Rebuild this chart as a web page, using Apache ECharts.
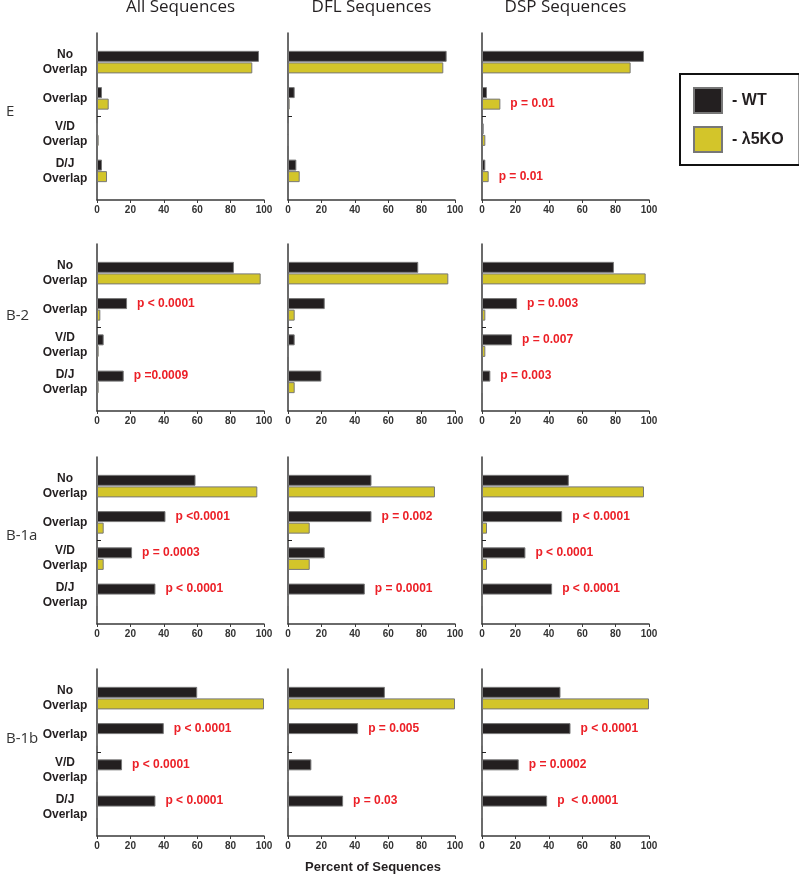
<!DOCTYPE html>
<html>
<head>
<meta charset="utf-8">
<script src="https://cdn.jsdelivr.net/npm/echarts@6/dist/echarts.min.js"></script>
<style>
  html, body { margin: 0; padding: 0; background: #fff; }
  #chart { width: 799px; height: 875px; }
</style>
</head>
<body>
<div id="chart"></div>
<script>
// categories and labels
const categories = ["No\nOverlap", "Overlap", "V/D\nOverlap", "D/J\nOverlap"];
const columnTitles = ["All Sequences", "DFL Sequences", "DSP Sequences"];
const rowLabels = ["E", "B-2", "B-1a", "B-1b"];
const groups = ["WT", "λ5KO"];
const xMin = 0, xMax = 100, xStep = 20;

// percent values, per row: [All, DFL, DSP] x categories
const wt_E   = [[97, 3, 0, 3], [95, 4, 0, 5], [97, 3, 1, 2]];
const ko_E   = [[93, 7, 1, 6], [93, 1, 0, 7], [89, 11, 2, 4]];
const wt_B2  = [[82, 18, 4, 16], [78, 22, 4, 20], [79, 21, 18, 5]];
const ko_B2  = [[98, 2, 1, 1], [96, 4, 0, 4], [98, 2, 2, 0]];
const wt_B1a = [[59, 41, 21, 35], [50, 50, 22, 46], [52, 48, 26, 42]];
const ko_B1a = [[96, 4, 4, 0], [88, 13, 13, 0], [97, 3, 3, 0]];
const wt_B1b = [[60, 40, 15, 35], [58, 42, 14, 33], [47, 53, 22, 39]];
const ko_B1b = [[100, 0, 0, 0], [100, 0, 0, 0], [100, 0, 0, 0]];

// p-value notes
const p_E   = [["", "", "", ""], ["", "", "", ""], ["", "p = 0.01", "", "p = 0.01"]];
const p_B2  = [["", "p < 0.0001", "", "p =0.0009"], ["", "", "", ""], ["", "p = 0.003", "p = 0.007", "p = 0.003"]];
const p_B1a = [["", "p <0.0001", "p = 0.0003", "p < 0.0001"], ["", "p = 0.002", "", "p = 0.0001"], ["", "p < 0.0001", "p < 0.0001", "p < 0.0001"]];
const p_B1b = [["", "p < 0.0001", "p < 0.0001", "p < 0.0001"], ["", "p = 0.005", "", "p = 0.03"], ["", "p < 0.0001", "p = 0.0002", "p  < 0.0001"]];

const wtRows = [wt_E, wt_B2, wt_B1a, wt_B1b];
const koRows = [ko_E, ko_B2, ko_B1a, ko_B1b];
const pRows = [p_E, p_B2, p_B1a, p_B1b];

// layout
const colLeft = [97, 288, 482];
const rowTop = [33, 244, 457, 669];
const panelW = 167, panelH = 167, bandPad = 11;
const axisColor = "#3a3a3a";
const wtColor = "#231f20", koColor = "#d3c52a", pColor = "#ec2027";

const grid = [], xAxis = [], yAxis = [], series = [], title = [];

columnTitles.forEach((t, c) => {
  title.push({
    text: t, left: colLeft[c] + panelW / 2, top: -1, textAlign: "center", padding: 0,
    textStyle: { fontFamily: "Open Sans", fontSize: 17, fontWeight: "normal", color: "#231f20" }
  });
});
const rowLabelTop = [104, 308, 528, 731];
rowLabels.forEach((t, r) => {
  title.push({
    text: t, left: 6, top: rowLabelTop[r], padding: 0,
    textStyle: { fontFamily: "Open Sans", fontSize: 15, fontWeight: "normal", color: "#333" }
  });
});
title.push({
  text: "Percent of Sequences", left: 373, top: 861, textAlign: "center", padding: 0,
  textStyle: { fontFamily: "Liberation Sans", fontSize: 13, fontWeight: "bold", color: "#231f20" }
});

function pLabel(text, show) {
  return {
    show: !!text && show, position: "right", distance: 10, formatter: text || "",
    color: pColor, fontFamily: "Liberation Sans", fontWeight: "bold", fontSize: 12
  };
}

for (let r = 0; r < 4; r++) {
  for (let c = 0; c < 3; c++) {
    const g = (r * 3 + c) * 2;
    // outer frame grid: axis lines and ticks
    grid.push({ left: colLeft[c], top: rowTop[r], width: panelW, height: panelH });
    // inner grid: bars
    grid.push({ left: colLeft[c], top: rowTop[r] + bandPad, width: panelW, height: panelH - 2 * bandPad });

    xAxis.push({
      gridIndex: g, type: "value", min: xMin, max: xMax, interval: xStep,
      axisLine: { show: true, lineStyle: { color: axisColor, width: 1.5 } },
      axisTick: { show: true, length: 3, lineStyle: { color: axisColor } },
      axisLabel: { margin: 5, fontFamily: "Liberation Sans", fontSize: 10, fontWeight: "bold", color: "#333" },
      splitLine: { show: false }
    });
    xAxis.push({ gridIndex: g + 1, type: "value", min: xMin, max: xMax, show: false });

    yAxis.push({
      gridIndex: g, type: "category", data: ["", "", ""], boundaryGap: false,
      axisLine: { show: true, lineStyle: { color: axisColor, width: 1.5 } },
      axisTick: { show: true, inside: true, length: 4, interval: (i) => i === 1, lineStyle: { color: "#222" } },
      axisLabel: { show: false }, splitLine: { show: false }
    });
    yAxis.push({
      gridIndex: g + 1, type: "category", inverse: true, data: categories,
      axisLine: { show: false }, axisTick: { show: false },
      axisLabel: {
        show: c === 0, align: "center", margin: 32, lineHeight: 15,
        fontFamily: "Liberation Sans", fontSize: 12, fontWeight: "bold", color: "#231f20"
      }
    });

    const wt = wtRows[r][c], ko = koRows[r][c], p = pRows[r][c];
    series.push({
      type: "bar", name: groups[0], xAxisIndex: g + 1, yAxisIndex: g + 1,
      barWidth: 11, barGap: "5%",
      itemStyle: { color: wtColor, borderColor: "#777", borderWidth: 1 },
      data: wt.map((v, i) => ({ value: v, label: pLabel(p[i], wt[i] >= ko[i]) }))
    });
    series.push({
      type: "bar", name: groups[1], xAxisIndex: g + 1, yAxisIndex: g + 1,
      barWidth: 11, barGap: "5%",
      itemStyle: { color: koColor, borderColor: "#777", borderWidth: 1 },
      data: ko.map((v, i) => ({ value: v, label: pLabel(p[i], ko[i] > wt[i]) }))
    });
  }
}

const chart = echarts.init(document.getElementById("chart"));
chart.setOption({
  animation: false,
  backgroundColor: "#fff",
  title: title,
  legend: {
    data: groups, orient: "vertical", left: 680, top: 74, icon: "rect",
    itemWidth: 28, itemHeight: 25, itemGap: 12,
    padding: [13, 16, 12, 13],
    borderColor: "#111", borderWidth: 2,
    formatter: (n) => "- " + n,
    textStyle: { fontFamily: "Liberation Sans", fontSize: 16, fontWeight: "bold", color: "#231f20", padding: [0, 0, 0, 5] }
  },
  grid: grid,
  xAxis: xAxis,
  yAxis: yAxis,
  series: series
});
</script>
</body>
</html>
